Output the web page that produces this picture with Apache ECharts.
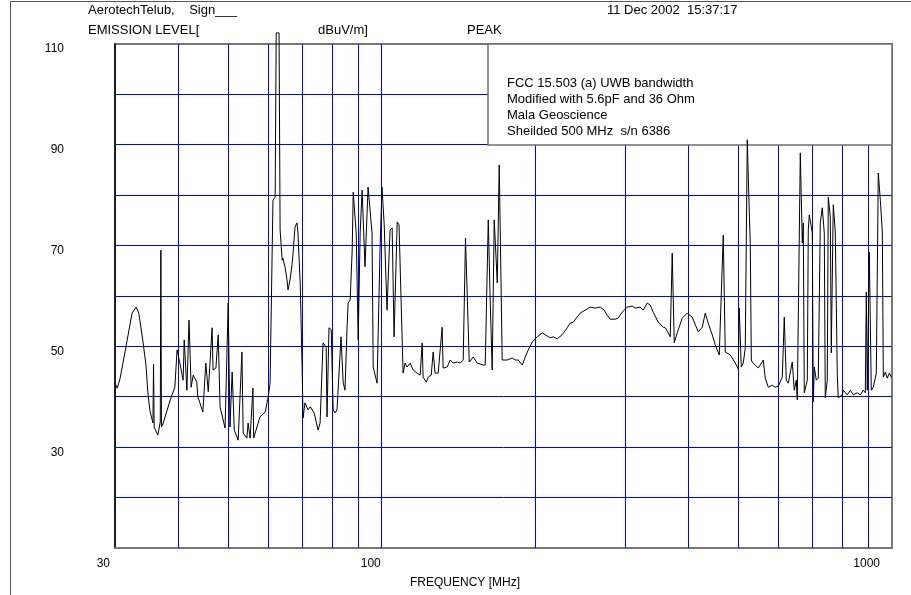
<!DOCTYPE html>
<html><head><meta charset="utf-8">
<script src="https://cdn.jsdelivr.net/npm/echarts@6/dist/echarts.min.js"></script>
<style>html,body{margin:0;padding:0;background:#fff}#c{width:911px;height:595px}</style>
</head><body><div id="c"></div>
<script>
const freqMHz = [30.0,30.3,30.7,31.1,31.7,32.4,33.0,33.4,34.0,34.5,34.8,35.1,35.6,35.7,35.8,36.4,36.8,36.9,37.0,37.3,38.5,39.3,39.7,40.2,40.8,41.0,41.5,41.9,42.3,42.7,43.4,43.6,44.0,44.6,45.2,45.7,46.5,46.7,47.3,47.8,48.2,49.3,50.0,50.4,50.9,51.4,52.3,53.2,53.5,54.4,54.7,55.2,55.9,56.1,57.7,59.1,59.9,60.4,61.2,61.8,62.1,62.9,63.2,63.8,64.0,64.6,65.2,65.5,66.1,66.7,67.0,67.6,68.2,68.5,69.2,69.8,70.1,70.7,71.7,72.4,73.7,75.0,75.7,76.7,77.8,78.1,78.8,79.6,80.3,81.0,81.7,83.2,84.0,84.7,85.5,85.9,86.7,87.5,87.9,89.1,89.9,90.7,91.5,92.7,94.0,95.7,96.2,97.9,99.2,100.1,101.1,102.4,103.8,104.8,105.7,107.2,108.1,109.1,110.1,111.1,112.1,113.7,115.2,117.3,118.9,120.0,120.5,122.2,123.3,125.0,126.1,127.2,129.0,131.3,131.9,134.3,136.2,138.0,140.5,142.5,144.4,145.9,147.0,148.4,151.1,153.8,158.0,159.5,161.7,163.1,164.6,166.1,168.4,169.9,172.2,176.1,180.2,182.6,185.1,188.5,191.1,193.7,197.2,201.7,206.3,209.1,213.9,216.8,220.7,225.7,230.9,234.0,237.2,244.8,250.4,256.1,262.0,267.9,272.8,276.5,280.3,286.7,290.6,296.0,302.7,309.6,313.9,321.0,325.4,331.3,335.8,340.4,348.2,356.1,359.4,364.3,367.6,370.9,374.3,379.4,388.0,396.9,405.9,417.1,424.7,430.5,436.4,444.3,450.4,458.6,467.0,471.2,481.9,492.9,499.7,501.9,506.5,511.1,515.7,520.4,525.1,527.5,530.0,532.2,539.5,546.9,559.4,564.4,572.1,582.5,590.5,598.6,609.5,615.0,620.6,626.2,637.6,643.4,649.3,652.2,661.1,667.1,670.1,673.1,682.3,685.4,688.5,697.9,701.0,704.2,710.6,717.0,723.5,730.1,736.7,740.0,746.7,750.1,756.9,760.3,767.2,774.2,781.2,784.7,799.0,802.6,817.2,828.4,839.7,855.0,866.7,878.5,886.5,890.5,894.5,902.6,910.8,919.1,931.6,940.0,948.7,957.3,961.6,970.3,979.1,988.0,997.0,1000.0];
const levelDb = [42.7,41.7,43.7,46.7,51.3,56.6,57.8,56.6,51.3,46.3,40.8,37.4,34.8,46.5,34.0,32.4,35.0,69.1,34.0,34.8,39.4,41.9,49.3,46.7,43.3,51.3,41.3,55.2,41.9,44.3,42.9,40.0,38.8,37.0,46.7,41.0,53.7,45.3,45.7,52.3,38.0,33.8,58.6,34.0,44.9,33.4,31.4,48.9,32.8,31.8,34.8,31.8,41.7,31.8,36.0,37.0,40.0,42.7,79.0,79.6,112.2,112.2,73.1,67.1,67.5,65.8,63.2,61.2,63.2,66.2,68.5,73.7,74.5,72.5,62.6,45.9,35.8,38.8,37.4,38.0,36.8,33.4,34.8,50.7,49.9,36.0,53.7,53.3,37.4,36.8,37.4,51.9,42.9,41.3,53.8,58.6,59.2,69.1,80.6,72.5,51.3,72.5,81.0,65.8,81.6,72.5,45.9,42.7,69.1,81.6,74.1,57.2,73.1,73.5,51.9,74.7,74.1,59.2,44.7,46.7,45.9,46.7,45.3,44.7,44.3,50.7,43.9,42.9,43.9,44.3,48.9,44.7,44.7,53.8,45.7,45.9,47.3,46.7,46.9,46.7,47.3,71.5,71.5,46.9,47.9,46.7,46.3,46.3,75.1,59.2,45.3,75.1,62.6,86.0,47.3,47.3,47.7,47.3,47.3,46.3,47.9,49.3,50.9,51.9,52.7,52.3,51.7,51.9,51.5,52.3,53.7,54.6,54.8,56.6,57.2,57.8,57.6,57.8,57.2,56.2,55.4,55.4,55.6,56.8,57.8,58.0,57.6,57.8,57.2,58.6,58.2,56.8,54.8,53.8,53.7,52.7,51.9,68.5,50.7,52.7,55.6,56.6,55.8,52.9,53.8,56.6,54.6,52.3,50.3,48.3,72.1,48.9,48.3,46.7,45.5,57.6,45.9,46.7,49.7,91.0,76.7,70.5,47.3,46.9,46.3,45.7,47.3,43.7,41.9,42.3,41.9,42.1,43.9,55.8,43.3,42.7,46.9,41.3,43.3,39.4,88.4,70.5,74.5,40.8,43.3,73.1,76.1,72.5,39.0,45.9,43.3,43.7,74.5,77.5,72.5,39.8,43.3,79.6,75.7,48.7,78.1,72.7,44.3,39.8,40.4,41.3,40.4,41.3,40.4,40.8,40.4,41.3,40.8,60.8,41.3,68.7,41.3,41.9,44.7,84.4,79.0,72.7,43.9,44.9,43.7,44.7,43.9,44.0];
const xTickLabels = [30, 100, 1000];
const yTickLabels = [30, 50, 70, 90, 110];
const xGridMHz = [40,50,60,70,80,90,100,200,300,400,500,600,700,800,900];
const yGridDb = [20,30,40,50,60,70,80,90,100];
const headerLines = ["AerotechTelub,    Sign___", "EMISSION LEVEL[", "dBuV/m]", "PEAK", "11 Dec 2002  15:37:17"];
const noteLines = ["FCC 15.503 (a) UWB bandwidth", "Modified with 5.6pF and 36 Ohm", "Mala Geoscience", "Sheilded 500 MHz  s/n 6386"];
const xTitle = "FREQUENCY [MHz]";

(function () {
const FONT = "'Liberation Sans', Arial, sans-serif";
const BLUE = '#0000ff';
const X_MIN = 30, X_MAX = 1000, Y_MIN = 10, Y_MAX = 110;
const chart = echarts.init(document.getElementById('c'), null, {renderer: 'canvas'});
const pts = freqMHz.map((f, i) => [f, levelDb[i]]);
const hdr = (t, x, y) => ({type: 'text', x: x, y: y, z: 10, style: {text: t, x: 0, y: 0, fill: '#000', font: '13px ' + FONT, verticalAlign: 'middle'}});
const graphics = [
  {type: 'line', z: 10, shape: {x1: 10.5, y1: 1.5, x2: 911, y2: 1.5}, style: {stroke: '#555', lineWidth: 1}},
  {type: 'line', z: 10, shape: {x1: 10.5, y1: 1.5, x2: 10.5, y2: 595}, style: {stroke: '#555', lineWidth: 1}},
  hdr(headerLines[0], 88, 10), hdr(headerLines[1], 88, 30), hdr(headerLines[2], 318, 30), hdr(headerLines[3], 467, 30), hdr(headerLines[4], 607, 10),
  {type: 'rect', z: 3, shape: {x: 488, y: 44, width: 404, height: 101}, style: {fill: '#fff', stroke: '#6e6e6e', lineWidth: 1.5}},
  {type: 'text', x: 465, y: 583, z: 10, style: {text: xTitle, fill: '#000', font: '12px ' + FONT, align: 'center', verticalAlign: 'middle'}}
];
noteLines.forEach((t, i) => graphics.push({type: 'text', x: 507, y: 83.5 + i * 16, z: 4, style: {text: t, fill: '#000', font: '13px ' + FONT, verticalAlign: 'middle'}}));

chart.setOption({
  animation: false,
  backgroundColor: '#fff',
  grid: {left: 115, right: 19, top: 44, bottom: 47, show: true, borderColor: '#777', borderWidth: 2, backgroundColor: 'transparent'},
  xAxis: {
    type: 'log', logBase: 10, min: X_MIN, max: X_MAX,
    axisLine: {show: true, lineStyle: {color: '#777', width: 2}},
    axisTick: {show: false}, splitLine: {show: false}, minorSplitLine: {show: false},
    axisLabel: {
      margin: 10, color: '#000', fontFamily: 'Liberation Sans', fontSize: 12, align: 'right',
      formatter: function (v) {
        const m = xTickLabels.find(t => Math.abs(Math.log10(t) - Math.log10(v)) < 0.01);
        if (m === undefined) return '';
        return '{' + (m === 30 ? 'a' : m === 100 ? 'b' : 'c') + '|' + m + '}';
      },
      rich: {
        a: {padding: [0, 5, 0, 0], fontSize: 12, fontFamily: 'Liberation Sans', color: '#000'},
        b: {padding: [0, 1, 0, 0], fontSize: 12, fontFamily: 'Liberation Sans', color: '#000'},
        c: {padding: [0, 12, 0, 0], fontSize: 12, fontFamily: 'Liberation Sans', color: '#000'}
      }
    }
  },
  yAxis: {
    type: 'value', min: Y_MIN, max: Y_MAX, interval: 10,
    axisLine: {show: true, lineStyle: {color: '#000', width: 1.5}},
    axisTick: {show: false}, splitLine: {show: false},
    axisLabel: {
      margin: 51, color: '#000', fontFamily: 'Liberation Sans', fontSize: 12,
      verticalAlign: 'top', lineHeight: 10,
      formatter: v => yTickLabels.includes(Math.round(v)) ? String(Math.round(v)) : ''
    }
  },
  series: [
    {
      type: 'line', z: 5, data: pts, showSymbol: false, symbol: 'none', clip: false,
      itemStyle: {color: '#000'},
      lineStyle: {color: '#000', width: 1}, silent: true
    }
  ],
  graphic: graphics
});

// grid lines placed through the chart's own scales, snapped to crisp pixels
const snap = p => Math.round(p - 0.5) + 0.5;
const gridEls = [];
const pTop = chart.convertToPixel({gridIndex: 0}, [X_MIN, Y_MAX]);
const pBot = chart.convertToPixel({gridIndex: 0}, [X_MAX, Y_MIN]);
xGridMHz.forEach(v => {
  const px = snap(chart.convertToPixel({gridIndex: 0}, [v, Y_MIN])[0]);
  gridEls.push({type: 'line', z: 1, silent: true, shape: {x1: px, y1: pTop[1], x2: px, y2: pBot[1]}, style: {stroke: BLUE, lineWidth: 1}});
});
yGridDb.forEach(v => {
  const py = snap(chart.convertToPixel({gridIndex: 0}, [X_MIN, v])[1]);
  gridEls.push({type: 'line', z: 1, silent: true, shape: {x1: pTop[0], y1: py, x2: pBot[0], y2: py}, style: {stroke: BLUE, lineWidth: 1}});
});
chart.setOption({graphic: graphics.concat(gridEls)}, {replaceMerge: ['graphic']});
})();
</script></body></html>
